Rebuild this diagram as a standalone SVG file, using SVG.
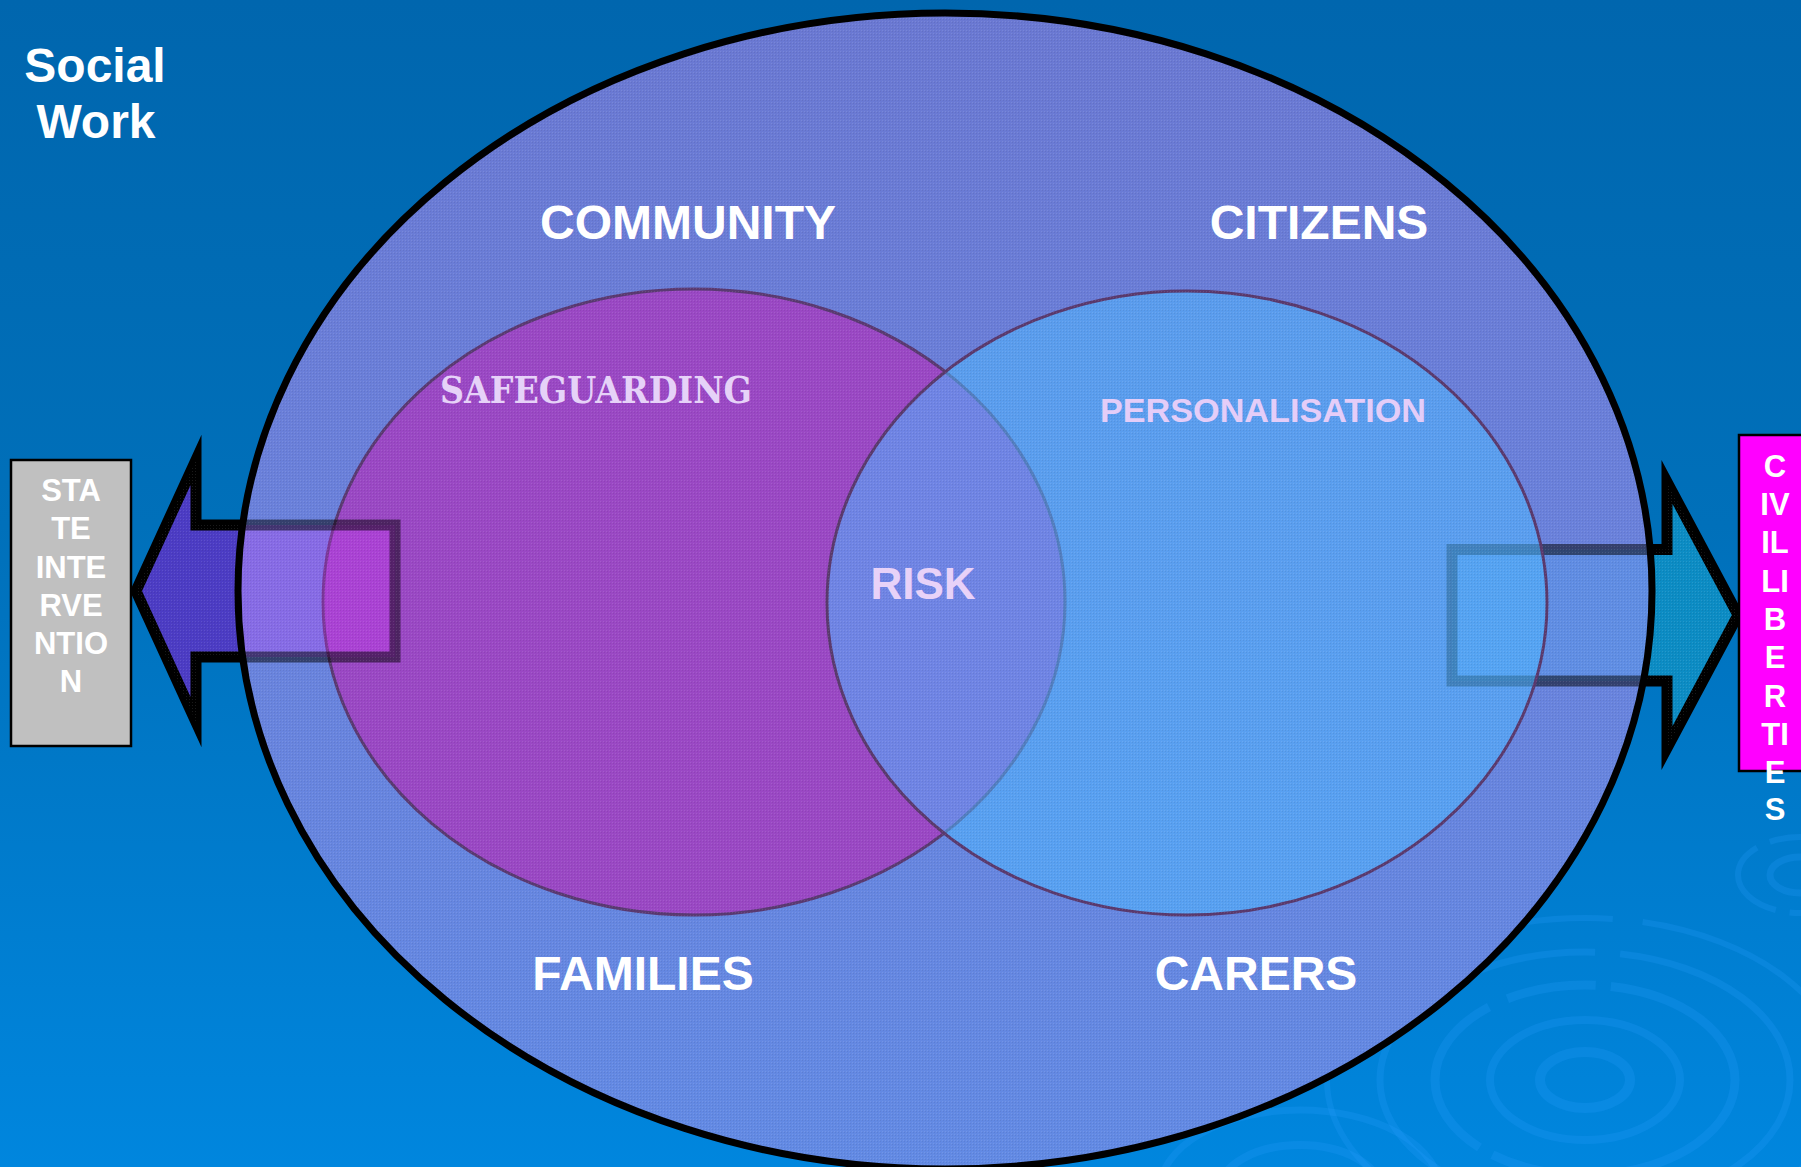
<svg xmlns="http://www.w3.org/2000/svg" width="1801" height="1167" viewBox="0 0 1801 1167">
<style>
.lbl{font-family:"Liberation Sans",Arial,sans-serif;font-weight:bold;fill:#ffffff;text-anchor:middle}
.big{font-size:48px}
.box{font-size:31px}
.rip{fill:none;stroke:#2aa0ff;stroke-opacity:0.22}
.arrow{stroke:#000;stroke-width:11;stroke-linejoin:miter;stroke-miterlimit:10}
</style>
<defs>
<linearGradient id="bg" x1="0" y1="0" x2="0" y2="1167" gradientUnits="userSpaceOnUse">
<stop offset="0" stop-color="#0066ae"/>
<stop offset="0.45" stop-color="#0070ba"/>
<stop offset="1" stop-color="#0086de"/>
</linearGradient>
<linearGradient id="eg" x1="0" y1="13" x2="0" y2="1169" gradientUnits="userSpaceOnUse">
<stop offset="0" stop-color="#6a78d2"/>
<stop offset="0.5" stop-color="#6a82dc"/>
<stop offset="1" stop-color="#628ae4"/>
</linearGradient>
<pattern id="dots" width="3" height="3" patternUnits="userSpaceOnUse">
<rect x="0" y="0" width="1" height="1" fill="#ffffff" fill-opacity="0.10"/>
<rect x="1" y="1" width="1" height="1" fill="#000000" fill-opacity="0.07"/>
</pattern>
<clipPath id="bigclip"><ellipse cx="945" cy="591" rx="707" ry="578"/></clipPath>
</defs>

<rect x="0" y="0" width="1801" height="1167" fill="url(#bg)"/>
<g id="ripples">
<ellipse class="rip" cx="1585" cy="1080" rx="45" ry="28" stroke-width="10"/>
<ellipse class="rip" cx="1585" cy="1080" rx="95" ry="60" stroke-width="8"/>
<ellipse class="rip" cx="1585" cy="1080" rx="150" ry="95" stroke-width="9" stroke-dasharray="180 20 90 15"/>
<ellipse class="rip" cx="1585" cy="1080" rx="205" ry="128" stroke-width="7" stroke-dasharray="240 30 120 25"/>
<ellipse class="rip" cx="1585" cy="1080" rx="258" ry="162" stroke-width="6" stroke-dasharray="300 40 160 30"/>
<ellipse class="rip" cx="1800" cy="875" rx="30" ry="18" stroke-width="7"/>
<ellipse class="rip" cx="1800" cy="875" rx="62" ry="38" stroke-width="6" stroke-dasharray="90 14"/>
<ellipse class="rip" cx="1300" cy="1190" rx="80" ry="45" stroke-width="8"/>
<ellipse class="rip" cx="1300" cy="1190" rx="140" ry="80" stroke-width="7"/>
</g>

<g id="connectors">
<path id="arrow-state" class="arrow" fill="#4c3cc4" d="M136 591 L196 460 L196 525 L395 525 L395 657 L196 657 L196 722 Z"/>
<path id="arrow-civil" class="arrow" fill="#0c8cc4" d="M1738 615 L1667 482 L1667 549.5 L1452 549.5 L1452 681 L1667 681 L1667 748 Z"/>
<path fill="url(#dots)" d="M136 591 L196 460 L196 525 L395 525 L395 657 L196 657 L196 722 Z"/>
<path fill="url(#dots)" d="M1738 615 L1667 482 L1667 549.5 L1452 549.5 L1452 681 L1667 681 L1667 748 Z"/>
</g>

<g id="social-work-circle">
<ellipse cx="945" cy="591" rx="707" ry="578" fill="url(#eg)"/>
</g>

<g id="safeguarding-circle">
<ellipse cx="694" cy="602" rx="371" ry="313" fill="#9a48c4" stroke="#5a3a72" stroke-width="3"/>
</g>

<g id="connector-overlays" clip-path="url(#bigclip)">
<rect x="150" y="525" width="245" height="132" fill="#d434ff" fill-opacity="0.28" stroke="#000" stroke-opacity="0.5" stroke-width="11"/>
<rect x="1452" y="549.5" width="260" height="131.5" fill="#40b8ff" fill-opacity="0.22" stroke="#000" stroke-opacity="0.5" stroke-width="11"/>
</g>

<g id="personalisation-circle">
<ellipse cx="1187" cy="603" rx="360" ry="312" fill="#4db7ff" fill-opacity="0.55" stroke="#5a3a6e" stroke-width="3"/>
</g>

<rect x="0" y="0" width="1801" height="1167" fill="url(#dots)" clip-path="url(#bigclip)"/>
<ellipse id="social-work-outline" cx="945" cy="591" rx="707" ry="578" fill="none" stroke="#000" stroke-width="7"/>

<g id="title">
<text class="lbl big" x="95" y="82">Social</text>
<text class="lbl big" x="96" y="138">Work</text>
</g>

<g id="community"><text class="lbl big" x="688" y="239">COMMUNITY</text></g>
<g id="citizens"><text class="lbl big" x="1319" y="239">CITIZENS</text></g>
<g id="families"><text class="lbl big" x="643" y="990">FAMILIES</text></g>
<g id="carers"><text class="lbl big" x="1256" y="990">CARERS</text></g>

<g id="safeguarding-label"><text x="596" y="403" text-anchor="middle" font-family="'DejaVu Serif','Liberation Serif',serif" font-weight="bold" font-size="38" fill="#e6d2f8" textLength="312" lengthAdjust="spacingAndGlyphs">SAFEGUARDING</text></g>
<g id="personalisation-label"><text x="1263" y="422" text-anchor="middle" font-family="'Liberation Sans',Arial,sans-serif" font-weight="bold" font-size="33" fill="#e4cdf8" textLength="326" lengthAdjust="spacingAndGlyphs">PERSONALISATION</text></g>
<g id="risk"><text x="923" y="599" text-anchor="middle" font-family="'Liberation Sans',Arial,sans-serif" font-weight="bold" font-size="44" fill="#e8d2f8">RISK</text></g>

<g id="state-intervention">
<rect x="11" y="460" width="120" height="286" fill="#c0c0c0" stroke="#000" stroke-width="2.5"/>
<text class="lbl box" x="71" y="501">STA</text>
<text class="lbl box" x="71" y="539">TE</text>
<text class="lbl box" x="71" y="578">INTE</text>
<text class="lbl box" x="71" y="616">RVE</text>
<text class="lbl box" x="71" y="654">NTIO</text>
<text class="lbl box" x="71" y="692">N</text>
</g>

<g id="civil-liberties">
<rect x="1739" y="435" width="72" height="336" fill="#ff00ff" stroke="#000" stroke-width="2.5"/>
<text class="lbl box" x="1775" y="477">C</text>
<text class="lbl box" x="1775" y="515">IV</text>
<text class="lbl box" x="1775" y="553">IL</text>
<text class="lbl box" x="1775" y="592">LI</text>
<text class="lbl box" x="1775" y="630">B</text>
<text class="lbl box" x="1775" y="668">E</text>
<text class="lbl box" x="1775" y="707">R</text>
<text class="lbl box" x="1775" y="745">TI</text>
<text class="lbl box" x="1775" y="783">E</text>
<text class="lbl box" x="1775" y="820">S</text>
</g>
</svg>
